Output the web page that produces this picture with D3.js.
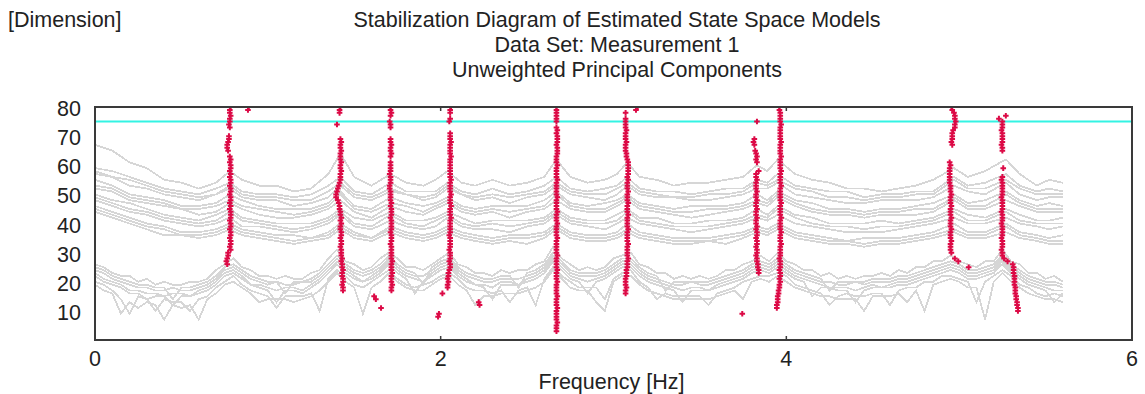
<!DOCTYPE html>
<html>
<head>
<meta charset="utf-8">
<script src="https://cdn.jsdelivr.net/npm/d3@7"></script>
<style>
  html, body { margin: 0; padding: 0; background: #fff; }
  svg { display: block; font-family: "Liberation Sans", Arial, sans-serif; }
</style>
</head>
<body>
<svg id="chart" width="1145" height="394"></svg>
<script>
const titleLines = [
  "Stabilization Diagram of Estimated State Space Models",
  "Data Set: Measurement 1",
  "Unweighted Principal Components"
];
const yLabel = "[Dimension]";
const xLabel = "Frequency [Hz]";
const xTicks = [0, 2, 4, 6];
const yTicks = [10, 20, 30, 40, 50, 60, 70, 80];
const thresholdDim = 75;

// spectra in the background (upper group), sampled at upperHz
const upperHz = [0,0.1,0.2,0.3,0.4,0.5,0.6,0.7,0.78,0.85, 0.95,1.05,1.15,1.25,1.35,1.42,1.5,1.6,1.71,1.8,
  1.9,1.97,2.04,2.12,2.2,2.3,2.4,2.5,2.6,2.67, 2.75,2.85,2.95,3.02,3.08,3.15,3.25,3.35,3.45,3.55,
  3.65,3.75,3.83,3.89,3.95,4.05,4.15,4.25,4.35,4.45, 4.55,4.65,4.75,4.85,4.97,5.05,5.15,5.27,5.35,5.45,
  5.52,5.6];
const upperLines = [
  [67,65,61,59,55,54,52,54,58,55, 53,53,51,52,57,64,56,53,57,54, 53,55,58,54,53,55,53,54,56,62, 56,54,55,57,61,56,55,53,54,54, 55,56,60,58,62,57,55,54,52,52, 51,52,53,55,59,56,58,62,57,53, 55,54],
  [59,58,56,54,52,51,50,52,54,51, 50,50,49,50,53,56,51,50,54,51, 51,51,54,51,50,52,50,51,53,56, 52,51,52,53,56,52,51,51,50,51, 52,52,55,54,57,53,52,51,51,49, 50,50,51,51,56,53,54,57,53,51, 52,51],
  [58,56,55,53,51,50,49,50,53,50, 49,49,48,48,51,54,50,49,52,50, 49,50,53,50,49,50,49,50,51,54, 51,50,50,52,54,51,50,49,49,50, 50,51,54,53,55,52,51,49,49,48, 49,49,50,50,55,52,52,55,52,50, 50,50],
  [57,56,53,52,50,49,48,50,52,49, 48,48,46,47,49,53,49,48,51,50, 48,49,52,50,48,49,47,49,50,53, 50,49,48,50,53,50,49,49,48,48, 49,50,52,52,54,50,49,48,47,47, 48,48,48,49,53,51,50,54,50,48, 49,49],
  [55,53,50,49,48,46,46,47,50,48, 46,45,45,45,47,51,46,45,49,47, 46,47,49,46,45,46,46,46,48,51, 47,46,47,48,50,47,46,45,46,46, 46,47,50,48,51,48,47,45,45,44, 45,45,46,47,50,47,48,51,48,46, 47,46],
  [53,52,49,48,47,45,45,46,48,46, 45,44,43,44,46,50,45,44,47,46, 44,46,48,45,44,45,44,45,46,50, 46,45,45,47,49,46,45,44,44,45, 45,46,48,47,50,47,45,44,44,43, 44,44,45,45,49,46,46,50,47,45, 45,45],
  [52,51,48,47,46,45,43,44,47,45, 43,42,42,43,45,48,44,42,46,44, 43,45,47,44,43,44,42,44,45,48, 45,44,44,46,48,45,44,43,42,43, 44,45,47,46,49,46,44,43,43,42, 43,43,43,44,48,45,45,48,46,44, 44,44],
  [50,48,47,45,43,42,41,43,45,42, 41,40,40,40,42,45,42,41,44,41, 41,42,44,42,40,41,41,41,42,45, 42,41,41,43,45,42,42,40,40,41, 41,42,45,43,46,43,42,40,40,40, 41,40,41,42,45,43,42,45,43,41, 41,42],
  [49,47,45,44,42,41,40,41,44,41, 40,39,38,39,41,44,40,39,43,40, 39,41,43,40,39,40,39,40,41,44, 41,40,40,41,44,41,40,39,39,39, 40,41,43,42,45,42,40,39,39,38, 39,39,40,41,44,41,41,44,41,40, 40,40],
  [48,46,44,43,41,40,39,40,42,39, 39,38,37,38,40,43,39,38,41,39, 38,39,42,39,38,38,37,39,40,43, 40,39,38,40,42,40,39,38,37,38, 39,40,42,41,43,40,39,38,37,37, 37,38,39,40,42,40,40,42,40,39, 38,39],
  [46,44,42,40,39,37,37,38,40,38, 37,36,36,35,37,40,37,35,39,37, 36,37,39,37,36,35,36,36,37,40, 37,36,36,37,40,37,36,35,35,35, 36,37,39,38,40,37,36,35,34,35, 35,35,36,37,40,37,37,40,37,36, 35,36],
  [45,43,41,39,38,36,36,37,39,37, 36,35,34,35,36,39,36,35,38,36, 35,36,38,36,35,34,35,35,36,39, 36,35,35,36,38,36,35,34,34,34, 35,36,38,37,39,36,35,34,34,33, 34,34,35,36,38,36,36,39,36,35, 34,34],
  [44,42,40,38,36,36,35,36,38,36, 35,34,33,34,35,38,35,34,37,35, 34,35,37,35,34,33,34,33,35,38, 35,34,34,35,37,35,34,33,33,34, 33,35,37,36,38,35,34,33,33,32, 33,33,34,35,37,35,35,37,35,34, 33,33]
];

// spectra in the background (lower, noisy group), sampled at lowerHz
const lowerHz = [0,0.05,0.1,0.15,0.2,0.25,0.3,0.35,0.4,0.45, 0.5,0.55,0.6,0.65,0.7,0.75,0.8,0.85,0.9,0.95,
  1,1.05,1.1,1.15,1.2,1.25,1.3,1.35,1.4,1.45, 1.5,1.55,1.6,1.65,1.7,1.75,1.8,1.85,1.9,1.95,
  2,2.05,2.1,2.15,2.2,2.25,2.3,2.35,2.4,2.45, 2.5,2.55,2.6,2.65,2.7,2.75,2.8,2.85,2.9,2.95,
  3,3.05,3.1,3.15,3.2,3.25,3.3,3.35,3.4,3.45, 3.5,3.55,3.6,3.65,3.7,3.75,3.8,3.85,3.9,3.95,
  4,4.05,4.1,4.15,4.2,4.25,4.3,4.35,4.4,4.45, 4.5,4.55,4.6,4.65,4.7,4.75,4.8,4.85,4.9,4.95,
  5,5.05,5.1,5.15,5.2,5.25,5.3,5.35,5.4,5.45, 5.5,5.55,5.6];
const lowerLines = [
  [26,25,23,22,22,20,21,19,20,19, 19,20,20,21,24,26,28,25,24,22, 22,21,22,21,21,23,24,28,31,27, 26,24,25,28,30,28,25,25,24,26,
   28,30,26,25,23,23,22,24,23,24, 24,26,27,32,28,26,24,25,24,25, 28,29,30,26,25,23,23,21,22,21, 22,21,22,24,24,26,27,29,27,30,
   27,26,24,24,22,23,21,22,21,22, 22,23,22,24,23,25,25,27,27,29, 27,26,25,27,27,31,27,26,23,23, 21,22,20],
  [25,24,22,21,20,19,19,18,18,14, 18,18,19,20,22,25,26,24,22,21, 20,20,16,20,20,21,23,26,29,26, 24,23,24,26,29,26,24,23,19,25,
   27,28,25,23,22,21,21,22,22,18, 23,24,26,30,27,24,23,23,23,24, 26,28,28,25,23,22,17,20,20,20, 20,20,21,22,23,24,26,27,26,28,
   26,24,23,22,21,17,20,20,20,20, 21,21,21,22,22,23,24,25,26,27, 26,24,24,25,26,29,26,24,22,21, 20,20,19],
  [24,23,21,20,19,18,18,17,17,18, 17,17,18,19,21,24,25,23,21,20, 19,20,19,19,20,20,22,25,28,25, 23,22,23,25,28,25,23,22,22,24,
   26,27,24,22,21,20,20,21,21,21, 22,23,25,29,26,23,22,22,22,23, 25,27,27,24,22,21,20,19,19,20, 19,19,20,21,22,23,25,26,25,27,
   25,23,22,21,20,20,19,19,20,19, 20,20,20,21,21,22,23,24,25,26, 25,23,23,24,25,28,25,23,21,20, 19,19,18],
  [23,21,20,19,17,17,16,16,15,16, 16,15,17,18,20,23,24,22,19,19, 18,17,18,18,17,19,21,24,27,24, 22,20,22,24,27,24,22,21,20,23,
   25,26,23,21,19,19,18,20,20,19, 21,22,24,28,25,22,21,20,21,22, 24,26,26,23,21,20,19,18,17,18, 18,17,19,20,21,22,24,25,24,26,
   24,22,21,20,19,18,18,18,17,18, 19,18,19,20,20,21,22,23,24,25, 24,22,22,23,24,27,24,22,20,19, 18,17,17],
  [22,20,19,18,16,16,14,15,15,12, 15,15,16,17,19,22,23,21,19,18, 17,13,17,17,16,18,20,23,26,23, 21,20,21,23,26,23,21,16,20,22,
   24,25,22,20,19,18,14,19,19,19, 20,21,23,27,24,21,20,16,20,21, 23,25,25,22,20,19,18,17,13,17, 17,17,18,19,20,21,23,24,23,25,
   23,21,20,15,18,18,17,17,13,17, 18,18,18,19,19,20,21,22,23,24, 23,21,21,22,23,26,23,21,19,18, 17,13,16],
  [20,19,17,14,9,15,14,10,14,13, 13,10,14,15,18,20,22,19,17,16, 15,11,15,15,15,16,10,21,24,22, 19,18,20,22,24,21,19,18,19,20,
   22,23,21,18,17,17,16,17,13,17, 18,12,21,25,22,20,18,18,18,14, 21,23,24,20,18,14,16,15,15,15, 15,12,16,17,18,20,21,22,22,23,
   22,19,18,17,16,12,15,16,15,15, 16,16,12,17,18,18,20,20,22,22, 21,20,13,20,22,24,22,19,18,16, 15,16,15],
  [19,17,16,9,13,11,13,12,7,12, 11,12,7,14,16,19,20,18,16,13, 14,14,14,13,14,15,17,20,23,20, 18,9,18,20,23,20,18,17,17,19,
   21,22,19,17,12,15,15,16,16,16, 17,18,20,24,21,18,17,17,13,10, 20,22,22,19,17,16,15,14,14,14, 14,14,15,16,17,14,20,21,20,22,
   20,18,17,16,15,15,14,14,14,10, 15,15,15,16,13,17,10,19,20,21, 20,18,18,7,20,23,20,18,16,15, 14,14,13]
];

// stable poles: frequency [Hz] per dimension, counting up from `start`; null = no pole
const poles = [
  { start: 26, hz: [0.765,0.76,0.765,0.77,0.77, 0.785,0.78,0.785,0.785,0.78,0.785,0.785,0.78,0.785,0.785,
      0.78,0.785,0.785,0.785,0.78,0.785,0.78,0.785,0.785,0.78, 0.785,0.785,0.78,0.785,0.785,0.78,0.785,0.78,0.785,0.785,
      0.78,0.785,0.78, null, 0.77,0.765,0.765,0.77,0.775,0.775, null,null, 0.78,0.775,0.78,0.78,0.785,0.78,0.78,0.785] },
  { start: 79, hz: [0.885, 0.89] },
  { start: 17, hz: [1.435,1.435,1.43,1.435,1.435,1.43,1.43,1.435,1.43,1.43,1.425,1.43,1.425,1.425,
      1.425,1.42,1.425,1.425,1.42,1.425,1.425,1.42,1.42,1.425,1.42,1.425,1.42,1.42,1.415,1.415,1.41,1.405,
      1.395,1.395,1.4,1.405,
      1.41,1.415,1.42,1.42,1.42,1.425,1.42,1.42,1.425,1.42,1.42,1.42,1.425,1.42,1.42,1.425,1.42,
      null,null,null,null, 1.4, null,null,null, 1.415,1.415,1.42] },
  { start: 11, hz: [1.655, null, null, 1.625, 1.615] },
  { start: 17, hz: [1.715,1.715,1.72,1.715,1.715,1.715,1.72,1.715,1.715,1.715,1.72,1.715,1.715,1.715,
      1.715,1.715,1.71,1.715,1.715,1.715,1.71,1.715,1.715,1.715,1.715,1.71,1.715,1.715,1.715,1.71,1.715,1.71,1.71,1.71,
      1.71,1.705,1.705,1.71,1.71,1.71,1.705,1.71,1.71,1.71,1.71,
      null, 1.71,1.715,1.71,1.71,1.715,1.71,1.71, null,null,null, 1.71,1.71,1.705, null, 1.71,1.715,1.71,1.71] },
  { start: 16, hz: [2.01, null, 2.04,2.04,2.045,2.04,2.045,2.045,2.05,
      2.055,2.055,2.05,2.055,2.055,2.055,2.05,2.055,2.055,2.055,2.055,2.05,2.055,2.055,2.055,2.055,
      2.055,2.06,2.055,2.055,2.055,2.06,2.055,2.055,2.055,2.06,2.055,2.055,2.055,2.055,2.06,2.055,2.055,2.055,2.055,2.055,
      2.055,2.055,2.06,2.055,2.055,2.055,2.055,2.06,2.055,2.055,2.055,
      null,null,null, 2.05,2.055, null, 2.055,2.055,2.06] },
  { start: 8, hz: [1.985, 1.99] },
  { start: 12, hz: [2.225, 2.22] },
  { start: 3, hz: [2.67,2.67,2.67,2.675,2.67,2.67,2.67,2.67,2.675,2.67, 2.67,2.67,2.675,2.67,2.67,2.67,2.67,2.675,2.67,2.67,
      2.67,2.675,2.67,2.67,2.67,2.67,2.675,2.67,2.67,2.67, 2.67,2.67,2.675,2.67,2.67,2.67,2.67,2.675,2.67,2.67,
      2.67,2.675,2.67,2.67,2.67,2.67,2.675,2.67,2.67,2.67, 2.67,2.67,2.675,2.67,2.67,2.67,2.67,2.675,2.67,2.67,
      2.67,2.675,2.675,2.675,2.67,2.675,2.675,2.675,2.67,2.675, 2.67,null,2.67,2.67,2.67,2.67,2.67,2.67] },
  { start: 16, hz: [3.07,3.07,3.075,3.07,3.07,3.07,3.075,3.075,3.075,
      3.08,3.08,3.08,3.085,3.08,3.08,3.08,3.08,3.085,3.08,3.08,3.08,3.08,3.085,3.08,3.08,
      3.08,3.08,3.085,3.08,3.08,3.08,3.085,3.08,3.08,3.08,3.085,3.08,3.08,3.08,3.085,3.08,3.085,3.085,3.085,3.085,
      3.085,3.08,3.075,3.075, 3.07,3.07,3.07,3.075,3.07,3.07,3.07,3.075,3.07,3.07,3.07,3.07, null, 3.07] },
  { start: 79, hz: [3.13, 3.14] },
  { start: 9, hz: [3.745] },
  { start: 23, hz: [3.84,3.84,3.835,3.835,
      3.83,3.83,3.825,3.83,3.83,3.825,3.83,3.83,3.825,3.83,3.83,3.825,3.83,3.825,
      3.825,3.83,3.825,3.825,3.83,3.825,3.825,3.83,3.825,3.825,3.83,3.825,3.825,3.825,3.83,3.825,3.825,3.84,
      null,null, 3.83,3.825,3.83,3.825,3.82, null, 3.815,3.81,3.815, null,null,null,null,null, 3.83] },
  { start: 11, hz: [3.945,3.945,3.95,3.95,3.95,3.955,3.955,
      3.96,3.96,3.965,3.96,3.965,3.965,3.96,3.965,3.965,3.965,3.96,3.965,3.965,
      3.965,3.965,3.97,3.965,3.965,3.965,3.97,3.965,3.965,3.965,3.965,3.97,3.965,3.965,3.965,3.965,3.97,3.965,3.965,3.965,
      3.965,3.965,3.97,3.965,3.965,3.965,3.965,3.97,3.965,3.965,3.965,3.965,3.97,3.965,3.965,3.965,3.965,3.97,3.965,3.965,
      3.965,3.965,3.965,3.97,3.965,3.965,3.965,3.965,3.96,3.96] },
  { start: 25, hz: [5.055, null, 4.995, 4.975, null,
      4.955,4.95,4.95,4.95,4.955,4.95,4.95,4.95,4.955,4.95,4.95,
      4.95,4.955,4.95,4.95,4.95,4.955,4.95,4.95,4.95,4.955,4.95,4.95,4.95,4.945,4.945,4.945,4.945,4.945,4.945,4.95,4.945,
      null,null,null,null,null, 4.96,4.955,4.96,4.96,4.96,4.965, 4.975,4.975,4.98,4.975,4.975,4.97, 4.96,4.955] },
  { start: 10, hz: [5.34,5.34,5.335,5.335,5.33,5.33,5.325,
      5.325,5.325,5.32,5.32,5.32,5.32,5.315,5.315,5.315,5.31, 5.28, 5.26,
      5.25,5.25,5.245,5.25,5.25,5.25,5.245,5.25,5.25,5.25,5.25,5.245,
      5.25,5.25,5.25,5.245,5.25,5.25,5.25,5.25,5.245,5.25,5.25,5.25,5.25,5.25,5.245,5.25,
      null,null, 5.255, null,null,null,null,null,
      5.25,5.25,5.245,5.25,5.25,5.25,5.25,5.245,5.25,5.25,5.25, 5.23, 5.27] }
];

const svg = d3.select("#chart");
const margin = { left: 95, right: 13, top: 107, bottom: 54 };
const W = +svg.attr("width"), H = +svg.attr("height");
const fontSize = 21.5;

const x = d3.scaleLinear().domain([0, 6]).range([margin.left, W - margin.right]);
const y = d3.scaleLinear().domain([0, 80]).range([H - margin.bottom, margin.top]);

svg.append("defs").append("clipPath").attr("id", "plot")
  .append("rect")
  .attr("x", x(0)).attr("y", y(80))
  .attr("width", x(6) - x(0)).attr("height", y(0) - y(80));

const plot = svg.append("g").attr("clip-path", "url(#plot)");

const line = d3.line().x(d => x(d[0])).y(d => y(d[1]));

// aliased gray spectra, like the original raster output
plot.append("g")
  .attr("shape-rendering", "crispEdges")
  .selectAll("path")
  .data(lowerLines.map(v => d3.zip(lowerHz, v)).concat(upperLines.map(v => d3.zip(upperHz, v))))
  .join("path")
  .attr("d", line)
  .attr("fill", "none")
  .attr("stroke", "#d6d6d6")
  .attr("stroke-width", 1.8);

plot.append("line")
  .attr("x1", x(0)).attr("x2", x(6))
  .attr("y1", y(thresholdDim)).attr("y2", y(thresholdDim))
  .attr("stroke", "#33f3e3")
  .attr("stroke-width", 2);

const polePoints = poles.flatMap(p =>
  p.hz.map((f, i) => f == null ? null : [f, p.start + i]).filter(d => d));

plot.append("g")
  .selectAll("path")
  .data(polePoints)
  .join("path")
  .attr("transform", d => `translate(${x(d[0])},${y(d[1])})`)
  .attr("d", "M-2.8,0H2.8M0,-2.8V2.8")
  .attr("stroke", "#dc0a46")
  .attr("stroke-width", 2);

// frame + inner ticks
svg.append("rect")
  .attr("x", x(0)).attr("y", y(80))
  .attr("width", x(6) - x(0)).attr("height", y(0) - y(80))
  .attr("fill", "none")
  .attr("stroke", "#3a3a3a")
  .attr("stroke-width", 2);

const innerTicks = xTicks.filter(t => t > 0 && t < 6);
svg.append("g").selectAll("line")
  .data(innerTicks.flatMap(t => [[t, y(0), y(0) - 4], [t, y(80), y(80) + 4]]))
  .join("line")
  .attr("x1", d => x(d[0])).attr("x2", d => x(d[0]))
  .attr("y1", d => d[1]).attr("y2", d => d[2])
  .attr("stroke", "#3a3a3a")
  .attr("stroke-width", 1.5);

// axis labels
svg.append("g").selectAll("text")
  .data(xTicks)
  .join("text")
  .attr("x", d => x(d))
  .attr("y", y(0) + 26)
  .attr("text-anchor", "middle")
  .attr("font-size", fontSize)
  .attr("fill", "#222")
  .text(d => d);

svg.append("g").selectAll("text")
  .data(yTicks)
  .join("text")
  .attr("x", 81)
  .attr("y", d => y(d) + 9)
  .attr("text-anchor", "end")
  .attr("font-size", fontSize)
  .attr("fill", "#222")
  .text(d => d);

svg.append("text")
  .attr("x", (x(0) + x(6)) / 2 - 2)
  .attr("y", 389)
  .attr("text-anchor", "middle")
  .attr("font-size", fontSize)
  .attr("fill", "#222")
  .text(xLabel);

svg.append("text")
  .attr("x", 8)
  .attr("y", 27)
  .attr("font-size", fontSize)
  .attr("fill", "#222")
  .text(yLabel);

svg.append("g").selectAll("text")
  .data(titleLines)
  .join("text")
  .attr("x", 617)
  .attr("y", (d, i) => 27 + i * 25)
  .attr("text-anchor", "middle")
  .attr("font-size", fontSize)
  .attr("fill", "#222")
  .text(d => d);
</script>
</body>
</html>
